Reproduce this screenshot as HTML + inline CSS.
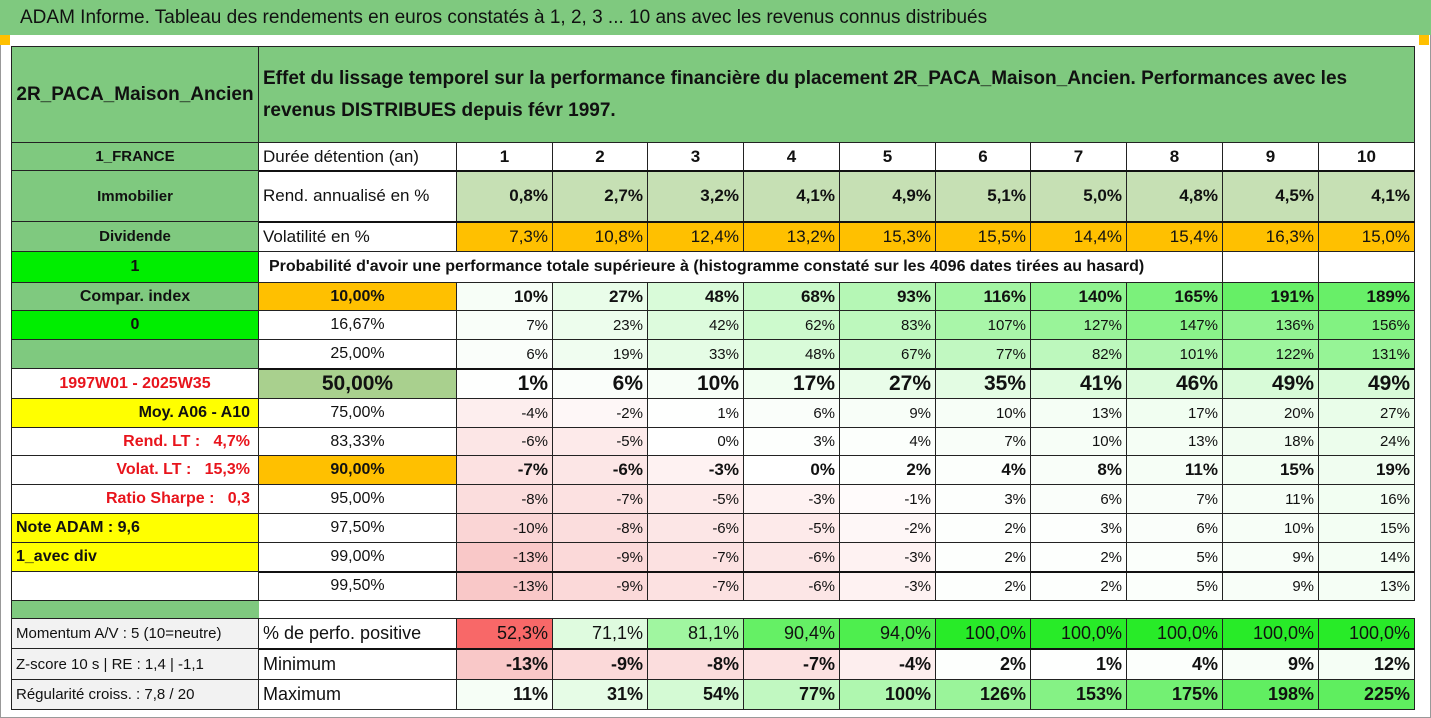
<!DOCTYPE html>
<html><head><meta charset="utf-8">
<style>
html,body{margin:0;padding:0;background:#fff;}
body{width:1431px;height:718px;position:relative;overflow:hidden;font-family:"Liberation Sans Narrow","Liberation Sans",sans-serif;color:#111;}
.c{position:absolute;box-sizing:border-box;border-right:1px solid #222;border-bottom:1px solid #222;display:flex;align-items:center;font-size:16px;white-space:pre;overflow:hidden;padding:0 4px;}
.r{justify-content:flex-end;}
.m{justify-content:center;}
.l{justify-content:flex-start;}
.b{font-weight:bold;}
</style></head><body>
<div style="position:absolute;left:0;top:0;width:1431px;height:35px;background:#7fc97f;font-size:19px;line-height:35px;padding-left:20px;box-sizing:border-box;">ADAM Informe. Tableau des rendements en euros constatés à 1, 2, 3 ... 10 ans avec les revenus connus distribués</div>
<div style="position:absolute;left:0;top:35px;width:1431px;height:683px;box-sizing:border-box;border:1px solid #999;border-top:none;"></div>
<div style="position:absolute;left:0;top:35px;width:10px;height:10px;background:#ffc000;"></div>
<div style="position:absolute;left:1419px;top:35px;width:10px;height:10px;background:#ffc000;"></div>
<div id="t" style="position:absolute;left:0;top:0;"></div>
<script>
const years=["1","2","3","4","5","6","7","8","9","10"];
const rendAnn=["0,8%","2,7%","3,2%","4,1%","4,9%","5,1%","5,0%","4,8%","4,5%","4,1%"];
const volat=["7,3%","10,8%","12,4%","13,2%","15,3%","15,5%","14,4%","15,4%","16,3%","15,0%"];
const probLabels=["10,00%","16,67%","25,00%","50,00%","75,00%","83,33%","90,00%","95,00%","97,50%","99,00%","99,50%"];
const p10=[10,27,48,68,93,116,140,165,191,189];
const p16=[7,23,42,62,83,107,127,147,136,156];
const p25=[6,19,33,48,67,77,82,101,122,131];
const p50=[1,6,10,17,27,35,41,46,49,49];
const p75=[-4,-2,1,6,9,10,13,17,20,27];
const p83=[-6,-5,0,3,4,7,10,13,18,24];
const p90=[-7,-6,-3,0,2,4,8,11,15,19];
const p95=[-8,-7,-5,-3,-1,3,6,7,11,16];
const p975=[-10,-8,-6,-5,-2,2,3,6,10,15];
const p99=[-13,-9,-7,-6,-3,2,2,5,9,14];
const p995=[-13,-9,-7,-6,-3,2,2,5,9,13];
const pctPos=[52.3,71.1,81.1,90.4,94.0,100,100,100,100,100];
const minimum=[-13,-9,-8,-7,-4,2,1,4,9,12];
const maximum=[11,31,54,77,100,126,153,175,198,225];
const leftLabels=["1_FRANCE","Immobilier","Dividende","1","Compar. index","0","","1997W01 - 2025W35","Moy. A06 - A10","Rend. LT :   4,7%","Volat. LT :   15,3%","Ratio Sharpe :   0,3","Note ADAM : 9,6","1_avec div",""];

const T=document.getElementById('t');
const colX=[457,553,648,744,840,936,1031,1127,1223,1319,1415];
function cell(x,y,w,h,txt,cls,style,name){
  const d=document.createElement('div');
  d.className='c '+(cls||'');
  d.style.left=x+'px';d.style.top=y+'px';d.style.width=w+'px';d.style.height=h+'px';
  if(style)d.style.cssText+=style;
  d.textContent=txt;
  
  
  T.appendChild(d);return d;
}
function mix(a,b,t){return 'rgb('+a.map((v,i)=>Math.round(v+(b[i]-v)*t)).join(',')+')';}
function heat(v){
  if(v>0)return mix([255,255,255],[95,238,95],Math.min(v/200,1));
  if(v<0)return mix([255,255,255],[249,200,200],Math.min(-v/13,1));
  return '#fff';
}
cell(11,47,1,663,'','',"border:none;background:#222;padding:0",'table-left-border');
cell(12,47,247,96,'2R_PACA_Maison_Ancien','m b',"background:#7fc97f;font-size:19px;",'asset-name');
const hd=cell(259,47,1156,96,'','l b',"background:#7fc97f;font-size:19px;white-space:normal;line-height:32px;",'chart-subtitle');
hd.textContent="Effet du lissage temporel sur la performance financière du placement 2R_PACA_Maison_Ancien. Performances avec les revenus DISTRIBUES depuis févr 1997.";
const rows=[[143,171],[171,222],[222,252],[252,283],[283,311],[311,340],[340,369],[369,399],[399,428],[428,456],[456,485],[485,514],[514,543],[543,572],[572,601]];
const leftBg=["#7fc97f","#7fc97f","#7fc97f","#00ee00","#7fc97f","#00ee00","#7fc97f","#fff","#ffff00","#fff","#fff","#fff","#ffff00","#ffff00","#fff"];
const leftCls=["m b","m b","m b","m b","m b","m b","m","m b","r b","r b","r b","r b","l b","l b","m"];
rows.forEach((r,i)=>{
  const red=(i>=7&&i<=11&&i!=8)?"color:#e8141c;":"";
  cell(12,r[0],247,r[1]-r[0],leftLabels[i],leftCls[i],"background:"+leftBg[i]+";font-size:"+(i<3?15:16)+"px;"+red+(i>=8&&i<=11?"padding-right:8px;":""),'left-label-'+i);
});
cell(259,143,198,28,'Durée détention (an)','l',"font-size:17px;",'duration-label');
years.forEach((y,i)=>cell(colX[i],143,colX[i+1]-colX[i],28,y,'m b',"font-size:17px;",'year-'+y));
cell(259,171,198,51,'Rend. annualisé en %','l',"font-size:17px;",'return-label');
rendAnn.forEach((v,i)=>cell(colX[i],171,colX[i+1]-colX[i],51,v,'r b',"background:#c6e0b4;font-size:17px;",'return-y'+(i+1)));
cell(259,222,198,30,'Volatilité en %','l',"font-size:17px;",'volatility-label');
volat.forEach((v,i)=>cell(colX[i],222,colX[i+1]-colX[i],30,v,'r',"background:#ffc000;font-size:17px;",'volatility-y'+(i+1)));
cell(259,252,964,31,"Probabilité d'avoir une performance totale supérieure à (histogramme constaté sur les 4096 dates tirées au hasard)",'l b',"font-size:16px;padding-left:10px;",'probability-title');
cell(1223,252,96,31,'','',"",'blank-1');cell(1319,252,96,31,'','',"",'blank-2');
const probs=[p10,p16,p25,p50,p75,p83,p90,p95,p975,p99,p995];
const bold=[1,0,0,1,0,0,1,0,0,0,0];
probs.forEach((arr,k)=>{
  const r=rows[4+k];const h=r[1]-r[0];
  const fs=k==3?21:(bold[k]?17:15);
  const lb=k==0||k==6?"#ffc000":(k==3?"#a9d08e":"#fff");
  cell(259,r[0],198,h,probLabels[k],'m'+(bold[k]?' b':''),"background:"+lb+";font-size:"+(k==3?21:16)+"px;",'prob-label-'+k);
  arr.forEach((v,i)=>cell(colX[i],r[0],colX[i+1]-colX[i],h,v+'%','r'+(bold[k]?' b':''),"background:"+heat(v)+";font-size:"+fs+"px;",'prob-'+k+'-y'+(i+1)));
});
cell(12,601,247,18,'','',"background:#7fc97f;border-right:none;",'separator-band');
const bl=[["Momentum A/V : 5 (10=neutre)","% de perfo. positive",619,649],["Z-score 10 s | RE : 1,4 | -1,1","Minimum",649,680],["Régularité croiss. : 7,8 / 20","Maximum",680,710]];
bl.forEach((b,k)=>{
  cell(12,b[2],247,b[3]-b[2],b[0],'l',"background:#f2f2f2;font-size:15px;",'stat-label-'+k);
  cell(259,b[2],198,b[3]-b[2],b[1],'l',"font-size:18px;",'stat-name-'+k);
});
function posColor(v){ if(v<60)return '#f86868'; return mix([230,252,230],[40,235,40],Math.min((v-70)/30,1)); }
pctPos.forEach((v,i)=>cell(colX[i],619,colX[i+1]-colX[i],30,v.toFixed(1).replace('.',',')+'%','r',"background:"+posColor(v)+";font-size:18px;",'pct-positive-y'+(i+1)));
minimum.forEach((v,i)=>cell(colX[i],649,colX[i+1]-colX[i],31,v+'%','r b',"background:"+heat(v)+";font-size:18px;",'minimum-y'+(i+1)));
maximum.forEach((v,i)=>cell(colX[i],680,colX[i+1]-colX[i],30,v+'%','r b',"background:"+heat(v)+";font-size:18px;",'maximum-y'+(i+1)));
cell(11,618,1404,1,'','',"border:none;background:#222;padding:0",'bottom-block-top-border');
cell(11,46,1404,1,'','',"border:none;background:#222;padding:0",'table-top-border');
[171,222,369,572,649].forEach((y,i)=>cell(259,y-1,1156,2,'','',"border:none;background:#111;padding:0",'thick-line-'+i));
</script>
</body></html>
